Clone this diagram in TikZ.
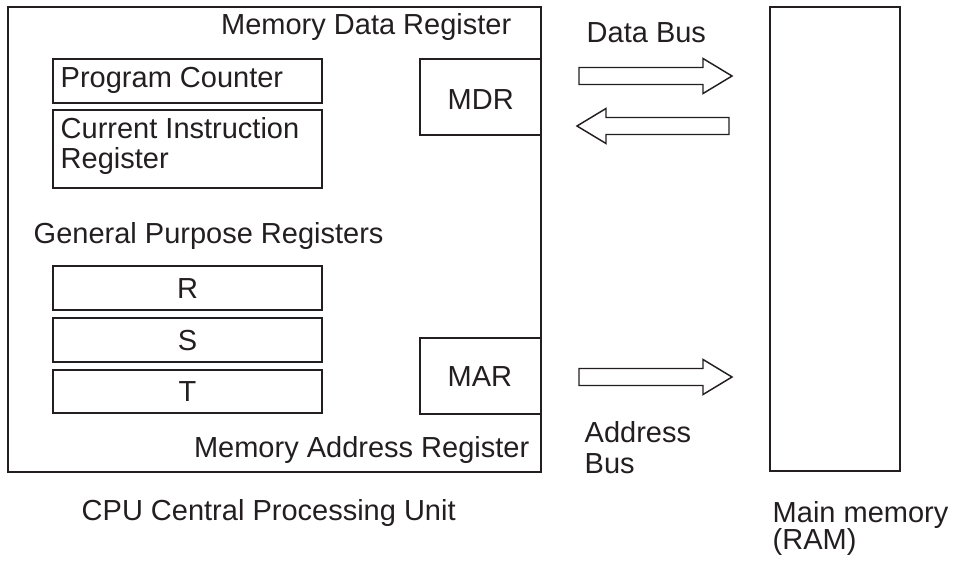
\documentclass[tikz,border=0pt]{standalone}
\usepackage{fontspec}
\setmainfont{Liberation Sans}
\usetikzlibrary{positioning}
\definecolor{ink}{RGB}{35,31,32}

\begin{document}
\begin{tikzpicture}[x=0.75pt, y=-0.75pt, line width=1.1pt, color=ink,
		lbl/.style={font=\fontsize{21.75}{26}\selectfont, inner sep=0pt, anchor=base west},
		reg/.style={lbl, anchor=base}]
	\useasboundingbox (0,0) rectangle (955,560);

	% CPU and main memory
	\draw (8,7) rectangle (541,472);
	\draw (770,7) rectangle (900,471);

	% Registers on the left
	\draw (53,59) rectangle (322,103);
	\node[lbl] (pc) at (60,88) {Program Counter};
	\draw (53,110) rectangle (322,188);
	\node[lbl] (cir1) at (60,138) {Current Instruction};
	\node[lbl] (cir2) at (60,168) {Register};

	\node[lbl] (gpr) at (33,243) {General Purpose Registers};
	\draw (53,266) rectangle (322,310);
	\node[reg] (r) at (187.5,298) {R};
	\draw (53,318) rectangle (322,362);
	\node[reg] (s) at (187.5,350) {S};
	\draw (53,370) rectangle (322,413);
	\node[reg] (t) at (187.5,401) {T};

	% MDR and MAR
	\node[lbl, anchor=base east] (mdrlbl) at (512,35) {Memory Data Register};
	\draw (420,59) rectangle (541,135);
	\node[lbl] (mdr) at (447,109) {MDR};
	\draw (420,338) rectangle (541,414);
	\node[lbl] (mar) at (447,386) {MAR};
	\node[lbl, anchor=base east] (marlbl) at (530,457) {Memory Address Register};

	% Data bus
	\node[lbl] (dbus) at (586,43) {Data Bus};
	\draw (579,67.5) -- (703,67.5) -- (703,58.5) -- (732,76) -- (703,93.5) -- (703,84.5) -- (579,84.5) -- cycle;
	\draw (729,117.5) -- (606,117.5) -- (606,108.5) -- (577,126) -- (606,143.5) -- (606,134.5) -- (729,134.5) -- cycle;

	% Address bus
	\draw (579,368.5) -- (703,368.5) -- (703,359.5) -- (732,377) -- (703,394.5) -- (703,385.5) -- (579,385.5) -- cycle;
	\node[lbl] (abus1) at (584,442) {Address};
	\node[lbl] (abus2) at (584,473) {Bus};

	% Captions
	\node[lbl] (cpu) at (81,520) {CPU Central Processing Unit};
	\node[lbl] (ram1) at (772,522) {Main memory};
	\node[lbl] (ram2) at (772,549) {(RAM)};
\end{tikzpicture}
\end{document}
